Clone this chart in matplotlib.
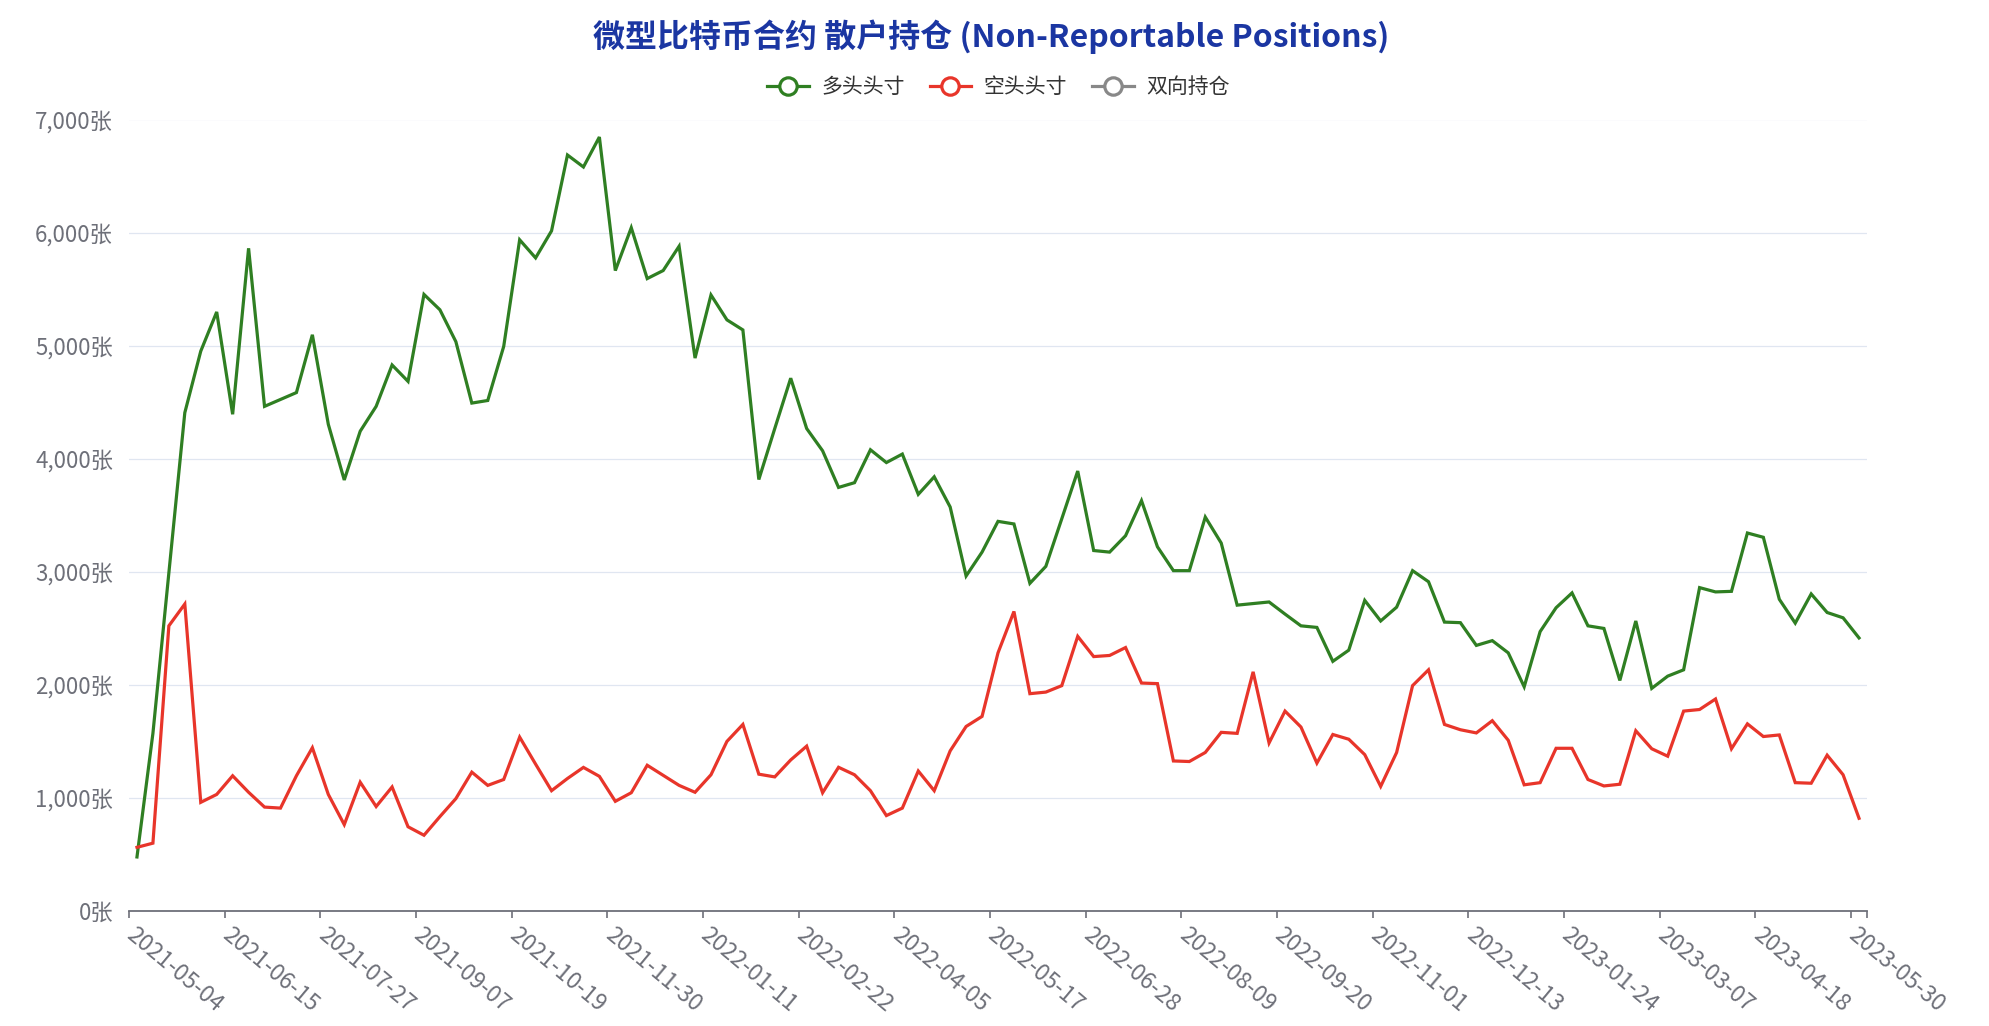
import numpy as np
import pandas as pd
import matplotlib
matplotlib.use('Agg')
import matplotlib.pyplot as plt
from matplotlib.lines import Line2D

plt.rcParams['font.family'] = ['Noto Sans CJK SC', 'DejaVu Sans']
plt.rcParams['axes.unicode_minus'] = False

# weekly report dates, 2021-05-04 .. 2023-05-30
dates = pd.date_range('2021-05-04', '2023-05-30', freq='7D').strftime('%Y-%m-%d').tolist()

long_pos = [478, 1571, 2990, 4407, 4951, 5298, 4393, 5861, 4463, 4524,
            4585, 5096, 4304, 3812, 4243, 4463, 4829, 4684, 5453, 5317,
            5035, 4492, 4515, 4993, 5936, 5776, 6015, 6686, 6580, 6845,
            5664, 6043, 5593, 5664, 5879, 4890, 5448, 5228, 5139, 3816,
            4267, 4712, 4267, 4070, 3746, 3788, 4079, 3966, 4041, 3685,
            3840, 3573, 2963, 3174, 3446, 3423, 2898, 3048, 3469, 3891,
            3188, 3174, 3319, 3629, 3221, 3010, 3010, 3484, 3254, 2705,
            2719, 2733, 2626, 2522, 2508, 2208, 2307, 2747, 2565, 2687,
            3010, 2912, 2555, 2550, 2349, 2391, 2283, 1983, 2471, 2682,
            2813, 2522, 2499, 2039, 2565, 1969, 2077, 2133, 2860, 2822,
            2827, 3343, 3305, 2757, 2546, 2804, 2640, 2593, 2415]

short_pos = [563, 600, 2522, 2715, 961, 1031, 1196, 1050, 919, 910,
             1196, 1444, 1031, 764, 1139, 924, 1097, 745, 670, 835,
             994, 1228, 1111, 1163, 1538, 1299, 1064, 1172, 1270, 1191,
             970, 1046, 1289, 1200, 1111, 1050, 1205, 1500, 1650, 1210,
             1186, 1336, 1458, 1046, 1271, 1205, 1064, 844, 910, 1238,
             1064, 1416, 1632, 1721, 2283, 2649, 1922, 1936, 1993, 2429,
             2250, 2260, 2330, 2016, 2011, 1327, 1322, 1402, 1580, 1571,
             2115, 1486, 1768, 1627, 1308, 1561, 1519, 1383, 1102, 1402,
             1993, 2133, 1650, 1603, 1575, 1683, 1510, 1116, 1135, 1439,
             1439, 1163, 1106, 1121, 1594, 1435, 1369, 1768, 1782, 1875,
             1435, 1655, 1543, 1557, 1135, 1130, 1378, 1205, 820]

spread_pos = []  # 双向持仓: no data shown

series_names = ['多头头寸', '空头头寸', '双向持仓']
colors = ['#2f7f22', '#e8352a', '#888888']

fig = plt.figure(figsize=(19.89, 10.26), dpi=100, facecolor='w')
ax = fig.add_axes([129 / 1989, 1 - 911 / 1026, (1867 - 129) / 1989, (911 - 119.5) / 1026])

x = np.arange(len(dates))
ax.plot(x, long_pos, color=colors[0], lw=2.3, solid_joinstyle='miter')
ax.plot(x, short_pos, color=colors[1], lw=2.3, solid_joinstyle='miter')
ax.plot(x[:len(spread_pos)], spread_pos, color=colors[2], lw=2.3)

ax.set_xlim(-0.5, len(dates) - 0.5)
ax.set_ylim(0, 7000)

# y axis
yt = np.arange(0, 7001, 1000)
ax.set_yticks(yt)
ax.set_yticklabels([f'{v:,}张' for v in yt])
ax.tick_params(axis='y', length=0, pad=11.5, labelsize=16, labelcolor='#6e7079')
ax.grid(axis='y', color='#e0e6f1', lw=0.9)
ax.set_axisbelow(True)

# x axis: tick marks at band edges, labels at band centres
edges = list(np.arange(-0.5, len(dates), 6)) + [len(dates) - 0.5]
ax.set_xticks(edges)
ax.set_xticklabels([])
ax.tick_params(axis='x', which='major', length=5, width=1.2, color='#6e7079', direction='out')
lab_idx = list(range(0, len(dates), 6))
ax.set_xticks(lab_idx, minor=True)
ax.set_xticklabels([dates[i] for i in lab_idx], minor=True, rotation=-40,
                   ha='left', va='top', rotation_mode='anchor')
ax.tick_params(axis='x', which='minor', length=0, pad=9, labelsize=16.5, labelcolor='#6e7079')

for s in ['top', 'right', 'left']:
    ax.spines[s].set_visible(False)
ax.spines['bottom'].set_color('#6e7079')
ax.spines['bottom'].set_linewidth(1.3)

fig.text(0.4985, 1 - 37 / 1026, '微型比特币合约 散户持仓 (Non-Reportable Positions)',
         ha='center', va='center', fontsize=23, fontweight='bold', color='#1b36a2')

handles = [Line2D([], [], color=c, lw=2.3, marker='o', markersize=12.5,
                  markerfacecolor='white', markeredgewidth=2.3) for c in colors]
fig.legend(handles, series_names, loc='center', bbox_to_anchor=(0.502, 1 - 87 / 1026),
           ncol=3, frameon=False, fontsize=15, handlelength=2.0, handletextpad=0.6,
           columnspacing=1.2, labelcolor='#333333')

fig.savefig('out.png', dpi=100, facecolor='w')
